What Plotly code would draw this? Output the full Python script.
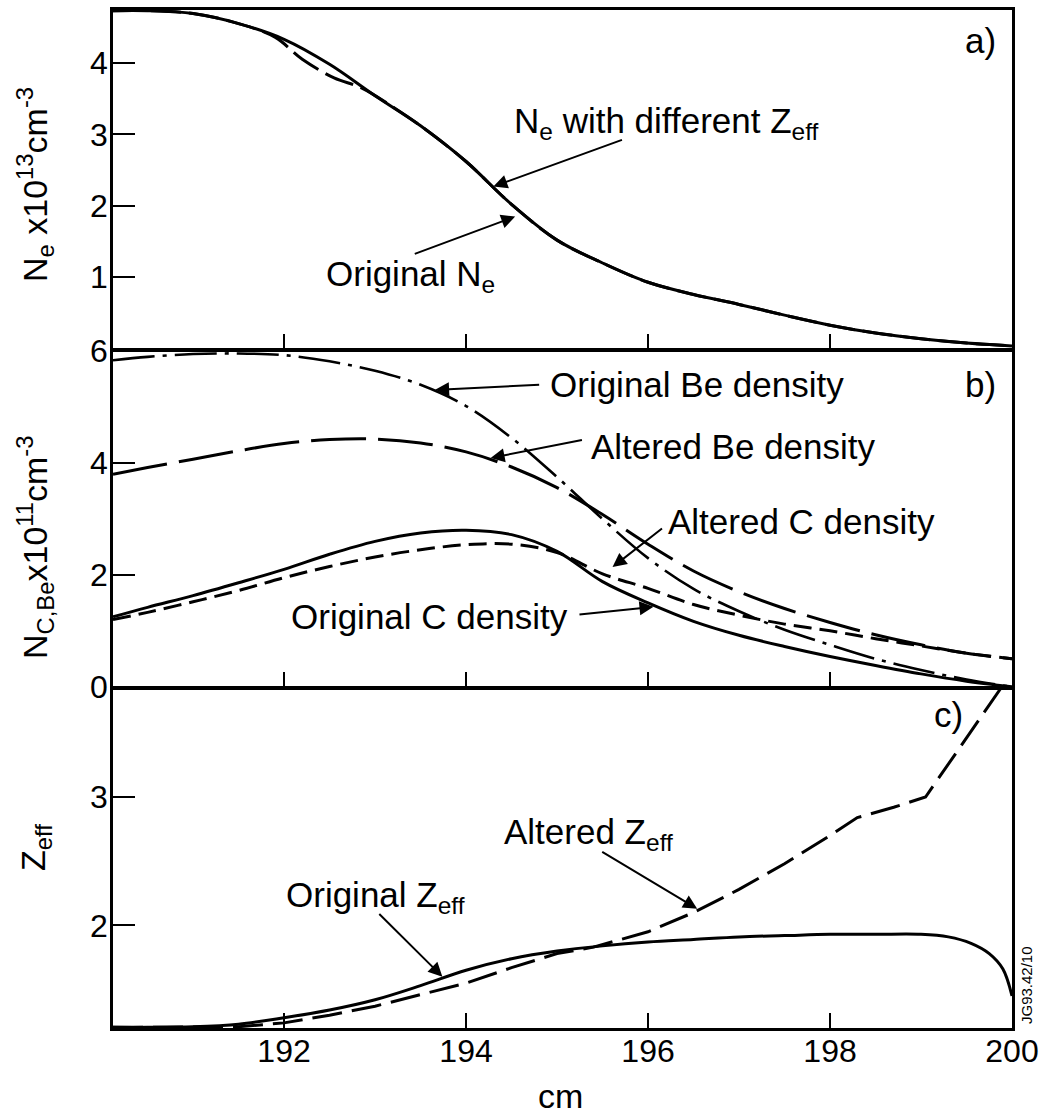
import plotly.graph_objects as go

# ---------------- data ----------------
# radial position (cm)
r_grid = [190.12, 190.5, 191, 191.5, 192, 192.5, 193, 193.5, 194, 194.5, 195,
          195.5, 196, 196.5, 197, 197.5, 198, 198.5, 199, 199.5, 200]

# a) electron density, 1e13 cm^-3
ne_orig = [4.73, 4.73, 4.69, 4.55, 4.33, 3.98, 3.54, 3.12, 2.62, 2.02, 1.52,
           1.2, 0.93, 0.76, 0.62, 0.47, 0.33, 0.22, 0.14, 0.08, 0.04]
ne_alt_r = [190.12, 190.5, 191, 191.5, 191.9, 192.2, 192.55, 192.85, 193.2, 193.5,
            194, 194.5, 195, 195.5, 196, 196.5, 197, 197.5, 198, 198.5, 199, 199.5, 200]
ne_alt = [4.73, 4.73, 4.69, 4.55, 4.36, 4.05, 3.79, 3.65, 3.38, 3.12,
          2.62, 2.02, 1.52, 1.2, 0.93, 0.76, 0.62, 0.47, 0.33, 0.22, 0.14, 0.08, 0.04]

# b) impurity densities, 1e11 cm^-3
be_orig = [5.84, 5.9, 5.95, 5.96, 5.93, 5.82, 5.65, 5.4, 5.02, 4.45, 3.75,
           3.0, 2.3, 1.75, 1.35, 1.02, 0.75, 0.5, 0.3, 0.13, 0.0]
be_alt = [3.8, 3.92, 4.07, 4.22, 4.35, 4.42, 4.43, 4.36, 4.2, 3.93, 3.56,
          3.08, 2.55, 2.07, 1.7, 1.4, 1.15, 0.93, 0.75, 0.6, 0.5]
c_orig = [1.25, 1.42, 1.63, 1.86, 2.1, 2.37, 2.6, 2.75, 2.8, 2.72, 2.42,
          1.88, 1.5, 1.17, 0.92, 0.72, 0.54, 0.38, 0.23, 0.1, 0.0]
c_alt = [1.2, 1.33, 1.52, 1.72, 1.95, 2.15, 2.32, 2.45, 2.54, 2.55, 2.4,
         2.02, 1.76, 1.47, 1.28, 1.12, 1.0, 0.86, 0.73, 0.6, 0.5]

# c) effective charge
zeff_orig_r = [190.12, 190.5, 191, 191.5, 192, 192.5, 193, 193.5, 194, 194.5, 195,
               195.5, 196, 196.5, 197, 197.5, 198, 198.5, 199, 199.3, 199.55,
               199.75, 199.9, 200]
zeff_orig = [1.205, 1.205, 1.21, 1.23, 1.28, 1.34, 1.42, 1.53, 1.65, 1.74, 1.8,
             1.84, 1.87, 1.89, 1.91, 1.92, 1.93, 1.93, 1.93, 1.91, 1.86,
             1.78, 1.66, 1.45]
zeff_alt_r = [190.12, 191, 191.5, 192, 192.5, 193, 193.5, 194, 194.5, 195, 195.4,
              196, 196.5, 197, 197.5, 198, 198.3, 198.7, 199.05, 199.87]
zeff_alt = [1.205, 1.205, 1.21, 1.24, 1.3, 1.37, 1.46, 1.55, 1.67, 1.78, 1.83,
            1.95, 2.1, 2.28, 2.48, 2.7, 2.84, 2.92, 3.0, 3.84]

x_ticks = [192, 194, 196, 198, 200]
ne_ticks = [1, 2, 3, 4]
nz_ticks = [0, 2, 4, 6]
zeff_ticks = [2, 3]

# ---------------- figure ----------------
W, H = 1050, 1115
FONT = "Liberation Sans"
BLACK = "black"
LW = 3
FRAME = 2.5

fig = go.Figure()


def add_line(x, y, dash, xa, ya, shape="spline", width=LW):
    fig.add_trace(go.Scatter(
        x=x, y=y, mode="lines", xaxis=xa, yaxis=ya,
        line=dict(color=BLACK, width=width, dash=dash, shape=shape),
        showlegend=False, hoverinfo="skip"))


# panel a
add_line(ne_alt_r, ne_alt, "30px,8px", "x", "y")
add_line(r_grid, ne_orig, "solid", "x", "y")
# panel b
add_line(r_grid, be_orig, "42px,8px,4px,8px", "x2", "y2", width=2.6)
add_line(r_grid, be_alt, "55px,12px", "x2", "y2")
add_line(r_grid, c_orig, "solid", "x2", "y2")
add_line(r_grid, c_alt, "18px,8px", "x2", "y2")
# panel c
add_line(zeff_orig_r, zeff_orig, "solid", "x3", "y3")
add_line(zeff_alt_r, zeff_alt, "30px,10px", "x3", "y3", shape="linear")


def px_x(p):
    return p / W


def px_y(p):
    return 1 - p / H


# panel frames: neighbouring frames share one border line
h = FRAME / 2
x_dom = [px_x(113), px_x(1012)]
dom_a = [px_y(350 - h), px_y(10)]
dom_b = [px_y(688 - h), px_y(350 + h)]
dom_c = [px_y(1028), px_y(688 + h)]

axis_common = dict(
    showline=True, linewidth=FRAME, linecolor=BLACK, mirror=True,
    showgrid=False, zeroline=False, ticks="inside", tickwidth=2,
    tickcolor=BLACK, tickfont=dict(family=FONT, size=32, color=BLACK),
    automargin=False,
)

x_common = dict(axis_common, domain=x_dom, range=[190.12, 200],
                tickvals=x_ticks, ticklen=15)
y_common = dict(axis_common, ticklen=22, ticklabelstandoff=-4)

layout = dict(
    width=W, height=H,
    margin=dict(l=0, r=0, t=0, b=0),
    paper_bgcolor="white", plot_bgcolor="white",
    xaxis=dict(x_common, anchor="y", showticklabels=False),
    xaxis2=dict(x_common, anchor="y2", showticklabels=False),
    xaxis3=dict(x_common, anchor="y3", showticklabels=True,
                ticklabelstandoff=-7),
    yaxis=dict(y_common, domain=dom_a, range=[0, 4.74], tickvals=ne_ticks,
               anchor="x"),
    yaxis2=dict(y_common, domain=dom_b, range=[0, 6], tickvals=nz_ticks,
                anchor="x2"),
    yaxis3=dict(y_common, domain=dom_c, range=[1.2, 3.84], tickvals=zeff_ticks,
                anchor="x3"),
)
fig.update_layout(**layout)

TXT = dict(family=FONT, size=35, color=BLACK)
ann = []


def label(text, x, y, xr, yr, **kw):
    d = dict(text=text, x=x, y=y, xref=xr, yref=yr, showarrow=False,
             font=TXT, xanchor="left", yanchor="middle")
    d.update(kw)
    ann.append(d)


def arrow(tip_x, tip_y, tail_x, tail_y, xr, yr):
    ann.append(dict(text="", x=tip_x, y=tip_y, ax=tail_x, ay=tail_y,
                    xref=xr, yref=yr, axref=xr, ayref=yr, showarrow=True,
                    arrowhead=2, arrowsize=1.4, arrowwidth=2,
                    arrowcolor=BLACK, standoff=0, startstandoff=0))


# panel a labels
label("N<sub>e</sub> with different Z<sub>eff</sub>", 194.50, 3.16, "x", "y")
arrow(194.30, 2.27, 195.73, 2.93, "x", "y")
label("Original N<sub>e</sub>", 192.44, 1.02, "x", "y")
arrow(194.54, 1.85, 193.42, 1.32, "x", "y")
label("a)", 199.65, 4.32, "x", "y", xanchor="center")

# panel b labels
label("Original Be density", 194.90, 5.40, "x2", "y2")
arrow(193.66, 5.31, 194.82, 5.40, "x2", "y2")
label("Altered Be density", 195.35, 4.30, "x2", "y2")
arrow(194.27, 4.09, 195.29, 4.42, "x2", "y2")
label("Altered C density", 196.20, 2.96, "x2", "y2")
arrow(195.61, 2.14, 196.17, 2.85, "x2", "y2")
label("Original C density", 192.05, 1.26, "x2", "y2")
arrow(196.06, 1.43, 195.23, 1.29, "x2", "y2")
label("b)", 199.65, 5.40, "x2", "y2", xanchor="center")

# panel c labels
label("Original Z<sub>eff</sub>", 192.00, 2.22, "x3", "y3")
arrow(193.74, 1.60, 193.03, 2.10, "x3", "y3")
label("Altered Z<sub>eff</sub>", 194.39, 2.71, "x3", "y3")
arrow(196.54, 2.13, 195.48, 2.58, "x3", "y3")
label("c)", 199.30, 3.64, "x3", "y3", xanchor="center")

# axis titles
TITLE = dict(family=FONT, size=34, color=BLACK)
label("N<sub>e</sub> x10<sup>13</sup>cm<sup>-3</sup>", px_x(35), px_y(185),
      "paper", "paper", xanchor="center", textangle=-90, font=TITLE)
label("N<sub>C,Be</sub>x10<sup>11</sup>cm<sup>-3</sup>", px_x(35), px_y(547),
      "paper", "paper", xanchor="center", textangle=-90, font=TITLE)
label("Z<sub>eff</sub>", px_x(35), px_y(848),
      "paper", "paper", xanchor="center", textangle=-90, font=TITLE)
label("cm", px_x(560), px_y(1096), "paper", "paper", xanchor="center",
      font=TITLE)
label("JG93.42/10", px_x(1026), px_y(985), "paper", "paper", xanchor="center",
      textangle=-90, font=dict(family=FONT, size=15, color=BLACK))

fig.update_layout(annotations=ann)

fig.write_html("out.html")
